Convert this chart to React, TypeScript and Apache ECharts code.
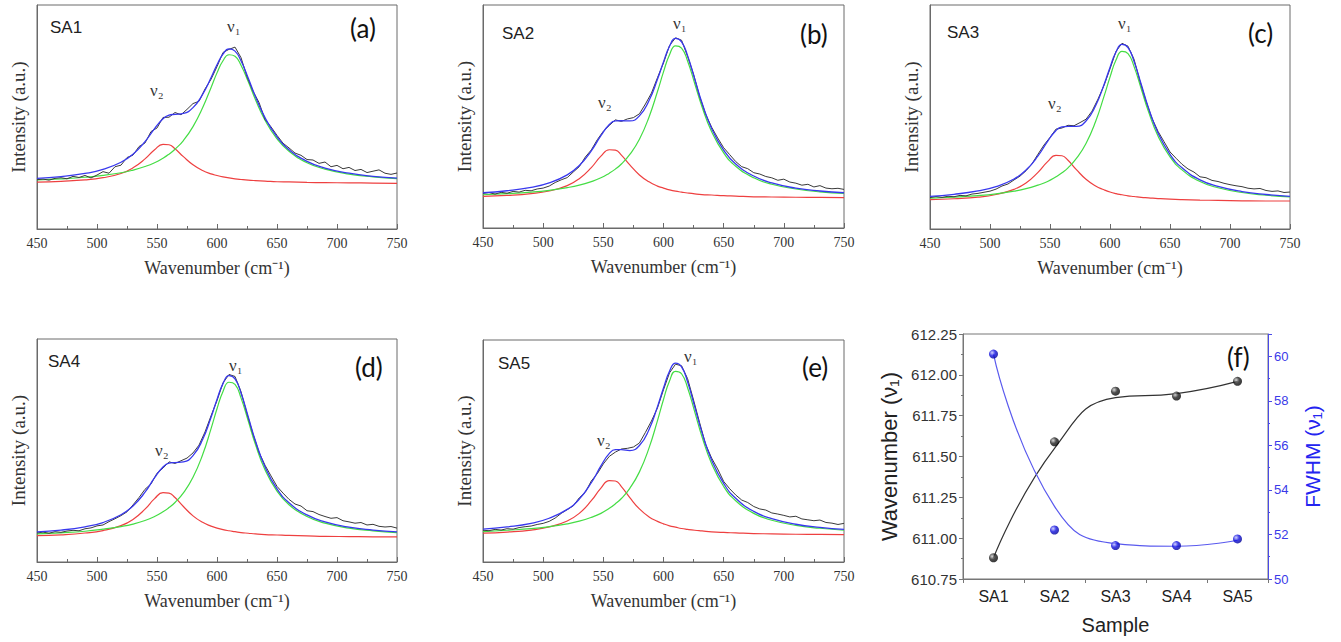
import React, { useEffect, useRef } from "react";
import * as echarts from "echarts";

// ---------- Spectra data (intensity in a.u., 0 = bottom of frame, 100 = top) ----------
const EXP_X = [
  450, 455, 460, 465, 470, 475, 480, 485, 490, 495,
  500, 505, 510, 515, 520, 525, 530, 535, 540, 545,
  550, 555, 560, 565, 570, 575, 580, 585, 590, 595,
  600, 605, 610, 615, 620, 625, 630, 635, 640, 645,
  650, 655, 660, 665, 670, 675, 680, 685, 690, 695,
  700, 705, 710, 715, 720, 725, 730, 735, 740, 745,
  750,
];
const FIT_X = [450, 470, 490, 505, 520, 530, 540, 548, 555, 560, 565, 572, 580, 588, 595, 600, 605, 610, 615, 620, 626, 632, 640, 650, 660, 675, 690, 710, 730, 750];

const EXP_A = [
  22.0, 22.3, 21.8, 22.6, 22.9, 22.4, 23.5, 23.0, 23.9, 22.8,
  24.1, 25.6, 24.9, 27.8, 28.5, 31.9, 33.0, 36.8, 38.4, 43.5,
  45.1, 49.8, 49.9, 52.0, 51.0, 53.4, 56.0, 57.0, 62.5, 66.8,
  72.5, 78.8, 80.2, 81.2, 76.5, 68.0, 61.5, 56.5, 48.9, 45.6,
  41.8, 38.3, 36.2, 33.9, 32.9, 31.0, 30.8, 29.3, 29.9, 27.8,
  28.4, 26.9, 27.5, 26.1, 26.6, 25.2, 25.8, 26.4, 24.9, 24.4,
  25.0,
];
const BLUE_A = [22.6, 23.4, 24.8, 26.6, 29.8, 33.4, 39.0, 44.8, 49.2, 50.8, 51.2, 51.6, 54.2, 60.1, 67.5, 73.3, 78.1, 80.4, 79.4, 75.1, 67.4, 59.2, 49.7, 41.1, 35.4, 30.2, 27.2, 24.9, 23.5, 22.7];
const GREEN_A = [21.9, 22.4, 23.1, 23.9, 25.1, 26.3, 27.9, 29.6, 31.6, 33.4, 35.6, 39.5, 45.7, 54.1, 63.1, 69.7, 75.1, 77.8, 77.1, 73.1, 65.8, 57.8, 48.6, 40.2, 34.7, 29.6, 26.7, 24.5, 23.3, 22.5];
const RED_A = [20.9, 21.3, 21.9, 22.9, 24.8, 27.3, 31.3, 35.4, 37.8, 37.6, 35.8, 32.3, 28.7, 26.1, 24.6, 23.9, 23.3, 22.8, 22.4, 22.1, 21.8, 21.6, 21.4, 21.1, 21.0, 20.8, 20.7, 20.6, 20.5, 20.4];

const EXP_B = [
  15.5, 15.9, 15.2, 16.0, 15.6, 16.4, 16.1, 16.9, 16.7, 17.5,
  17.9, 18.8, 20.4, 21.6, 22.6, 25.1, 27.5, 31.8, 35.0, 39.6,
  43.4, 46.0, 48.5, 47.8, 48.9, 49.5, 51.2, 55.6, 60.5, 67.4,
  74.0, 81.8, 85.3, 84.2, 77.0, 68.9, 59.0, 51.1, 45.2, 40.4,
  36.0, 32.9, 29.8, 27.5, 26.6, 24.8, 24.2, 23.1, 22.5, 21.4,
  21.9, 20.6, 20.1, 19.2, 19.6, 18.4, 19.0, 17.9, 17.6, 17.8,
  17.3,
];
const BLUE_B = [15.8, 16.7, 18.2, 20.2, 23.8, 28.0, 34.6, 41.4, 46.4, 48.0, 48.1, 48.0, 50.3, 57.2, 66.7, 74.5, 81.5, 85.0, 83.5, 77.3, 66.7, 56.1, 44.6, 34.9, 28.7, 23.3, 20.2, 17.9, 16.6, 15.8];
const GREEN_B = [14.9, 15.4, 16.1, 16.9, 18.1, 19.2, 20.8, 22.5, 24.6, 26.4, 28.7, 33.0, 39.8, 49.8, 61.2, 70.0, 77.7, 81.7, 80.7, 74.9, 64.7, 54.4, 43.2, 33.7, 27.7, 22.5, 19.6, 17.5, 16.2, 15.5];
const RED_B = [14.2, 14.6, 15.4, 16.6, 19.0, 22.1, 27.1, 32.2, 35.1, 34.9, 32.7, 28.3, 23.8, 20.7, 18.8, 17.9, 17.1, 16.5, 16.1, 15.7, 15.3, 15.0, 14.8, 14.5, 14.3, 14.0, 13.9, 13.8, 13.7, 13.6];

const EXP_C = [
  14.0, 14.5, 14.1, 14.6, 14.4, 15.0, 14.8, 15.6, 15.9, 16.4,
  16.9, 17.8, 19.2, 20.1, 21.9, 23.6, 26.0, 29.1, 33.4, 37.5,
  40.9, 44.6, 45.1, 46.3, 46.1, 47.5, 49.0, 52.6, 58.0, 64.1,
  71.5, 79.3, 82.9, 81.6, 75.8, 65.9, 57.1, 49.4, 43.6, 39.0,
  34.4, 31.6, 28.9, 26.8, 25.4, 23.3, 22.9, 21.7, 21.2, 20.4,
  19.8, 19.3, 18.9, 18.2, 17.9, 18.1, 17.2, 16.8, 17.0, 16.3,
  16.5,
];
const BLUE_C = [14.6, 15.5, 17.0, 18.9, 22.3, 26.3, 32.6, 39.1, 44.0, 45.6, 45.8, 45.8, 48.2, 55.0, 64.4, 72.1, 79.0, 82.4, 81.0, 74.9, 64.6, 54.2, 42.9, 33.3, 27.3, 21.9, 19.0, 16.7, 15.4, 14.6];
const GREEN_C = [13.8, 14.2, 14.9, 15.7, 16.9, 18.0, 19.6, 21.2, 23.3, 25.1, 27.3, 31.5, 38.2, 48.0, 59.2, 67.8, 75.4, 79.3, 78.3, 72.6, 62.6, 52.5, 41.5, 32.2, 26.4, 21.2, 18.4, 16.3, 15.1, 14.3];
const RED_C = [13.1, 13.5, 14.2, 15.4, 17.7, 20.5, 25.3, 30.1, 32.9, 32.7, 30.7, 26.5, 22.2, 19.2, 17.5, 16.5, 15.8, 15.3, 14.8, 14.5, 14.1, 13.9, 13.6, 13.3, 13.1, 12.9, 12.8, 12.6, 12.5, 12.5];

const EXP_D = [
  13.0, 13.4, 12.9, 13.6, 13.3, 13.9, 14.2, 14.0, 14.9, 15.3,
  16.2, 16.6, 18.1, 19.4, 20.8, 22.5, 25.6, 28.9, 32.6, 35.0,
  39.8, 42.1, 44.9, 44.2, 45.4, 46.6, 48.9, 52.4, 58.3, 65.5,
  72.4, 80.3, 84.1, 83.2, 76.4, 66.5, 57.4, 49.2, 43.4, 38.6,
  33.9, 30.9, 28.1, 26.0, 25.1, 23.0, 22.6, 21.3, 20.4, 19.6,
  19.9, 18.5, 18.0, 17.4, 17.7, 16.6, 16.9, 16.0, 15.7, 15.9,
  15.2,
];
const BLUE_D = [13.5, 14.3, 15.8, 17.7, 21.2, 25.1, 31.3, 37.8, 42.6, 44.3, 44.6, 44.9, 47.7, 54.9, 64.8, 72.9, 80.0, 83.6, 82.1, 75.8, 65.2, 54.4, 42.7, 32.8, 26.6, 21.1, 18.0, 15.6, 14.3, 13.5];
const GREEN_D = [12.6, 13.1, 13.8, 14.7, 15.9, 17.0, 18.6, 20.4, 22.5, 24.4, 26.7, 31.0, 38.0, 48.1, 59.7, 68.7, 76.5, 80.6, 79.6, 73.6, 63.3, 52.8, 41.4, 31.8, 25.7, 20.4, 17.4, 15.2, 14.0, 13.2];
const RED_D = [11.8, 12.2, 13.0, 14.1, 16.3, 19.1, 23.7, 28.4, 31.1, 30.9, 28.9, 24.9, 20.7, 17.8, 16.1, 15.2, 14.5, 14.0, 13.6, 13.2, 12.9, 12.6, 12.3, 12.1, 11.9, 11.7, 11.5, 11.4, 11.3, 11.3];

const EXP_E = [
  14.3, 14.1, 14.7, 14.4, 15.0, 14.8, 15.5, 15.9, 16.2, 16.9,
  17.4, 18.3, 19.8, 21.9, 23.6, 25.3, 28.9, 31.4, 36.5, 39.8,
  44.2, 47.6, 49.5, 50.9, 51.2, 51.8, 53.6, 58.4, 63.5, 69.4,
  77.6, 85.2, 89.1, 88.4, 82.6, 72.9, 62.8, 53.0, 46.8, 41.9,
  36.3, 33.0, 30.2, 27.9, 26.8, 25.0, 23.9, 23.4, 22.1, 21.6,
  21.0, 20.3, 20.6, 19.4, 19.0, 18.6, 18.9, 17.8, 17.5, 16.9,
  17.4,
];
const BLUE_E = [14.8, 15.8, 17.4, 19.7, 23.7, 28.3, 35.7, 43.3, 48.9, 50.6, 50.6, 50.2, 52.5, 59.7, 70.0, 78.4, 85.9, 89.6, 87.9, 81.2, 69.8, 58.3, 45.9, 35.4, 28.7, 22.8, 19.5, 17.0, 15.6, 14.7];
const GREEN_E = [13.7, 14.3, 15.0, 15.9, 17.2, 18.4, 20.1, 21.9, 24.2, 26.2, 28.6, 33.2, 40.6, 51.4, 63.7, 73.2, 81.5, 85.9, 84.8, 78.5, 67.5, 56.4, 44.3, 34.0, 27.6, 21.9, 18.8, 16.5, 15.2, 14.3];
const RED_E = [13.0, 13.5, 14.4, 15.8, 18.5, 21.9, 27.6, 33.3, 36.7, 36.5, 34.0, 29.0, 23.9, 20.3, 18.3, 17.2, 16.3, 15.7, 15.1, 14.7, 14.3, 14.0, 13.6, 13.3, 13.1, 12.8, 12.7, 12.5, 12.4, 12.3];

const SAMPLE_NAMES = ["SA1", "SA2", "SA3", "SA4", "SA5"];
const PANEL_TAGS = ["(a)", "(b)", "(c)", "(d)", "(e)"];

// ---------- Panel (f) data ----------
const SAMPLES = ["SA1", "SA2", "SA3", "SA4", "SA5"];
const WAVENUMBER_V1 = [610.88, 611.59, 611.9, 611.87, 611.96];
const WAVENUMBER_FIT = [610.88, 611.55, 611.86, 611.885, 611.96];
const FWHM_V1 = [60.1, 52.2, 51.5, 51.5, 51.8];
const FWHM_FIT = [60.1, 53.26, 51.59, 51.47, 51.74];

// ---------- Layout ----------
const SPEC_GRIDS = [
  { left: 37, top: 5, width: 360, height: 224 },
  { left: 483, top: 5, width: 361, height: 223 },
  { left: 930, top: 5, width: 360, height: 224 },
  { left: 37, top: 339, width: 360, height: 223 },
  { left: 483, top: 340, width: 361, height: 222 },
];
const F_GRID = { left: 963, top: 334, width: 305, height: 245 };

const ANNOT = [
  { name: [50, 27], tag: [350, 28], v1: [227, 26], v2: [150, 90] },
  { name: [502, 33], tag: [800, 34], v1: [673, 23], v2: [598, 102] },
  { name: [947, 32], tag: [1248, 33], v1: [1118, 23], v2: [1048, 103] },
  { name: [48, 361], tag: [355, 367], v1: [229, 365], v2: [155, 450] },
  { name: [498, 363], tag: [802, 367], v1: [684, 356], v2: [597, 440] },
];

const SPECTRA = [
  { exp: EXP_A, blue: BLUE_A, green: GREEN_A, red: RED_A },
  { exp: EXP_B, blue: BLUE_B, green: GREEN_B, red: RED_B },
  { exp: EXP_C, blue: BLUE_C, green: GREEN_C, red: RED_C },
  { exp: EXP_D, blue: BLUE_D, green: GREEN_D, red: RED_D },
  { exp: EXP_E, blue: BLUE_E, green: GREEN_E, red: RED_E },
];

const zip = (xs: number[], ys: number[]) => xs.map((x, i) => [x, ys[i]]);

const AXIS_GRAY = "#6a6a6a";
const SERIF = "'Liberation Serif', 'Times New Roman', serif";
const SANS = "'Liberation Sans', Arial, sans-serif";

export default function App() {
  const ref = useRef<HTMLDivElement>(null);

  useEffect(() => {
    document.body.style.margin = "0";
    const chart = echarts.init(ref.current!, null, { renderer: "svg" });

    const grids: any[] = SPEC_GRIDS.map((g) => ({
      ...g,
      show: true,
      borderColor: AXIS_GRAY,
      borderWidth: 1,
      backgroundColor: "transparent",
    }));
    grids.push({ ...F_GRID, show: true, borderColor: "#777", borderWidth: 1 });

    const xAxes: any[] = SPEC_GRIDS.map((_, i) => ({
      gridIndex: i,
      type: "value",
      min: 450,
      max: 750,
      interval: 50,
      axisLine: { show: true, lineStyle: { color: AXIS_GRAY } },
      axisTick: { show: true, inside: true, length: 5, lineStyle: { color: AXIS_GRAY } },
      minorTick: { show: true, splitNumber: 2, length: 3, lineStyle: { color: AXIS_GRAY } },
      axisLabel: { fontFamily: SERIF, fontSize: 14, color: "#333", margin: 7 },
      splitLine: { show: false },
      name: "Wavenumber (cm⁻¹)",
      nameLocation: "middle",
      nameGap: 30,
      nameTextStyle: { fontFamily: SERIF, fontSize: 18, color: "#333" },
    }));
    xAxes.push({
      gridIndex: 5,
      type: "category",
      data: SAMPLES,
      boundaryGap: true,
      axisLine: { show: true, lineStyle: { color: "#777" } },
      axisTick: { show: true, length: 4, lineStyle: { color: "#777" } },
      axisLabel: { fontFamily: SANS, fontSize: 16, color: "#222", margin: 9 },
      name: "Sample",
      nameLocation: "middle",
      nameGap: 36,
      nameTextStyle: { fontFamily: SANS, fontSize: 20, color: "#222" },
    });

    const yAxes: any[] = SPEC_GRIDS.map((_, i) => ({
      gridIndex: i,
      type: "value",
      min: 0,
      max: 100,
      axisLine: { show: true, lineStyle: { color: AXIS_GRAY } },
      axisTick: { show: false },
      axisLabel: { show: false },
      splitLine: { show: false },
      name: "Intensity (a.u.)",
      nameLocation: "middle",
      nameGap: 9,
      nameRotate: 90,
      nameTextStyle: { fontFamily: SERIF, fontSize: 19, color: "#333" },
    }));
    yAxes.push({
      gridIndex: 5,
      type: "value",
      position: "left",
      min: 610.75,
      max: 612.25,
      interval: 0.25,
      axisLine: { show: true, lineStyle: { color: "#777" } },
      axisTick: { show: true, length: 4, lineStyle: { color: "#777" } },
      minorTick: { show: true, splitNumber: 2, length: 2, lineStyle: { color: "#777" } },
      axisLabel: { fontFamily: SANS, fontSize: 15, color: "#333", margin: 6, formatter: (v: number) => v.toFixed(2) },
      splitLine: { show: false },
      name: "Wavenumber (ν₁)",
      nameLocation: "middle",
      nameGap: 63,
      nameRotate: 90,
      nameTextStyle: { fontFamily: SANS, fontSize: 22, color: "#222" },
    });
    yAxes.push({
      gridIndex: 5,
      type: "value",
      position: "right",
      min: 50,
      max: 61,
      interval: 2,
      axisLine: { show: true, lineStyle: { color: "#4a4ae8" } },
      axisTick: { show: true, length: 4, lineStyle: { color: "#4a4ae8" } },
      minorTick: { show: true, splitNumber: 2, length: 2, lineStyle: { color: "#4a4ae8" } },
      axisLabel: {
        fontFamily: SANS,
        fontSize: 13,
        color: "#3a3ae8",
        margin: 6,
        formatter: (v: number) => (v > 60 ? "" : String(v)),
      },
      splitLine: { show: false },
      name: "FWHM (ν₁)",
      nameLocation: "middle",
      nameGap: 34,
      nameRotate: 90,
      nameTextStyle: { fontFamily: SANS, fontSize: 21, color: "#2424f0" },
    });

    const series: any[] = [];
    SPECTRA.forEach((s, i) => {
      const common = {
        type: "line",
        xAxisIndex: i,
        yAxisIndex: i,
        showSymbol: false,
        symbol: "none",
        silent: true,
      };
      series.push({ ...common, name: "v2 fit", data: zip(FIT_X, s.red), smooth: 0.5, lineStyle: { color: "#ee4040", width: 1.2 }, z: 2 });
      series.push({ ...common, name: "v1 fit", data: zip(FIT_X, s.green), smooth: 0.5, lineStyle: { color: "#44dd44", width: 1.2 }, z: 3 });
      series.push({ ...common, name: "experimental", data: zip(EXP_X, s.exp), smooth: false, lineStyle: { color: "#3a3a3a", width: 1 }, z: 4 });
      series.push({ ...common, name: "envelope", data: zip(FIT_X, s.blue), smooth: 0.5, lineStyle: { color: "#3838ee", width: 1.3 }, z: 5 });
    });

    const ballBlack = {
      type: "radial", x: 0.35, y: 0.35, r: 0.75,
      colorStops: [{ offset: 0, color: "#d0d0d0" }, { offset: 0.45, color: "#222" }, { offset: 1, color: "#000" }],
    };
    const ballBlue = {
      type: "radial", x: 0.35, y: 0.35, r: 0.75,
      colorStops: [{ offset: 0, color: "#c8c8ff" }, { offset: 0.45, color: "#1010e0" }, { offset: 1, color: "#00008a" }],
    };

    series.push({
      type: "line", xAxisIndex: 5, yAxisIndex: 5, data: WAVENUMBER_FIT, smooth: 0.5,
      showSymbol: false, symbol: "none", lineStyle: { color: "#333", width: 1.2 }, z: 2,
    });
    series.push({
      type: "line", xAxisIndex: 5, yAxisIndex: 6, data: FWHM_FIT, smooth: 0.5,
      showSymbol: false, symbol: "none", lineStyle: { color: "#5a5aee", width: 1.2 }, z: 2,
    });
    series.push({
      type: "scatter", xAxisIndex: 5, yAxisIndex: 5, data: WAVENUMBER_V1,
      symbol: "circle", symbolSize: 9, itemStyle: { color: ballBlack }, z: 5,
    });
    series.push({
      type: "scatter", xAxisIndex: 5, yAxisIndex: 6, data: FWHM_V1,
      symbol: "circle", symbolSize: 9, itemStyle: { color: ballBlue }, z: 5,
    });

    const graphics: any[] = [];
    ANNOT.forEach((a, i) => {
      graphics.push({
        type: "text", x: a.name[0], y: a.name[1],
        style: { text: SAMPLE_NAMES[i], font: `17px ${SANS}`, fill: "#222", verticalAlign: "middle", align: "left" },
      });
      graphics.push({
        type: "text", x: a.tag[0], y: a.tag[1],
        style: { text: PANEL_TAGS[i], font: `26px Lato, 'Open Sans', sans-serif`, fill: "#111", verticalAlign: "middle", align: "left" },
      });
      graphics.push({
        type: "text", x: a.v1[0], y: a.v1[1],
        style: { text: "ν₁", font: `17px ${SERIF}`, fill: "#333", verticalAlign: "middle", align: "left" },
      });
      graphics.push({
        type: "text", x: a.v2[0], y: a.v2[1],
        style: { text: "ν₂", font: `17px ${SERIF}`, fill: "#333", verticalAlign: "middle", align: "left" },
      });
    });
    graphics.push({
      type: "text", x: 1227, y: 357,
      style: { text: "(f)", font: `26px Lato, 'Open Sans', sans-serif`, fill: "#111", verticalAlign: "middle", align: "left" },
    });

    chart.setOption({
      animation: false,
      backgroundColor: "#ffffff",
      grid: grids,
      xAxis: xAxes,
      yAxis: yAxes,
      series,
      graphic: graphics,
    });

    return () => chart.dispose();
  }, []);

  return <div ref={ref} style={{ width: 1341, height: 642 }} />;
}
